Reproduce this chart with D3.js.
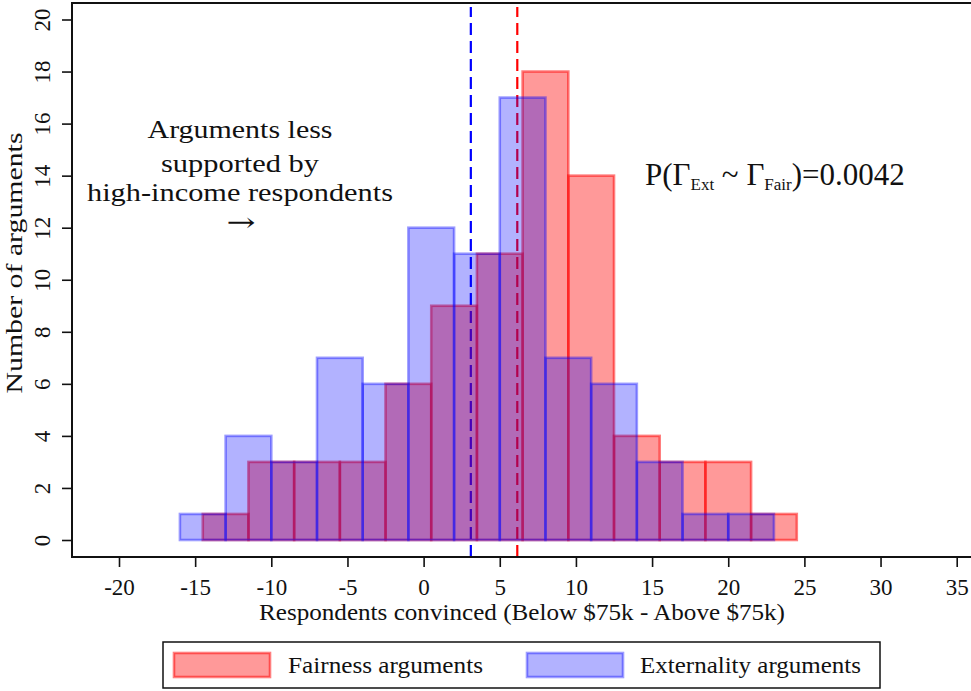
<!DOCTYPE html>
<html><head><meta charset="utf-8">
<script src="https://cdn.jsdelivr.net/npm/d3@7"></script>
<style>
html,body{margin:0;padding:0;background:#fff;}
svg{display:block;}
</style></head>
<body>
<svg id="chart" width="971" height="691"></svg>
<script>
// ---- data ----
const binWidth = 3;
const fairBinStarts = [-14.5,-11.5,-8.5,-5.5,-2.5,0.5,3.5,6.5,9.5,12.5,15.5,18.5,21.5];
const fairCounts    = [1,3,3,3,6,9,11,18,14,4,3,3,1];
const extBinStarts  = [-16,-13,-10,-7,-4,-1,2,5,8,11,14,17,20];
const extCounts     = [1,4,3,7,6,12,11,17,7,6,3,1,1];
const fairMean = 6.15;
const extMean = 3.1;
const xTicks = [-20,-15,-10,-5,0,5,10,15,20,25,30,35];
const yTicks = [0,2,4,6,8,10,12,14,16,18,20];
const legendLabels = ["Fairness arguments","Externality arguments"];
const annotationLines = ["Arguments less","supported by","high-income respondents"];

const FONT = "'Liberation Serif','Times New Roman',Times,'DejaVu Serif',serif";
const svg = d3.select("#chart");
const x = d3.scaleLinear().domain([-20,35]).range([119,956.7]);
const y = d3.scaleLinear().domain([0,20]).range([540,19.5]);
const plotTop = 3, plotBottom = 557, plotLeft = 72, plotRight = 985;

const fairFill = "rgba(255,0,0,0.4)", fairStroke = "rgba(255,0,0,0.5)";
const extFill = "rgba(0,0,255,0.3)", extStroke = "rgba(0,0,255,0.38)";

// mean lines (drawn under bars)
[[extMean,"#0000ff"],[fairMean,"#ff0000"]].forEach(([m,c])=>{
  svg.append("line").attr("x1",x(m)).attr("x2",x(m))
    .attr("y1",plotBottom).attr("y2",plotTop+4)
    .attr("stroke",c).attr("stroke-width",2.2)
    .attr("stroke-dasharray","12,6");
});

function drawBars(starts,counts,fill,stroke){
  svg.append("g").selectAll("rect").data(starts.map((s,i)=>({s,c:counts[i]})))
    .join("rect")
    .attr("x",d=>x(d.s)).attr("width",d=>x(d.s+binWidth)-x(d.s))
    .attr("y",d=>y(d.c)).attr("height",d=>y(0)-y(d.c))
    .attr("fill",fill).attr("stroke",stroke).attr("stroke-width",2.6);
}
drawBars(fairBinStarts,fairCounts,fairFill,fairStroke);
drawBars(extBinStarts,extCounts,extFill,extStroke);

// frame
svg.append("path").attr("d",`M${plotRight},${plotTop}H${plotLeft}V${plotBottom}H${plotRight}`)
  .attr("fill","none").attr("stroke","#111").attr("stroke-width",2);

// x axis
const xa = svg.append("g").attr("transform",`translate(0,${plotBottom})`)
  .call(d3.axisBottom(x).tickValues(xTicks).tickSize(10).tickPadding(0).tickFormat(d3.format("d")));
xa.attr("font-family",FONT);
xa.select(".domain").remove();
xa.selectAll("line").attr("stroke","#111").attr("stroke-width",1.6);
xa.selectAll("text").attr("font-size",23).attr("fill","#111")
  .attr("font-family",FONT).attr("dy",null).attr("y",38)
  .text(d=>d<0?"-"+Math.abs(d):String(d));

// y axis
const ya = svg.append("g").attr("transform",`translate(${plotLeft},0)`)
  .call(d3.axisLeft(y).tickValues(yTicks).tickSize(10).tickFormat(d3.format("d")));
ya.attr("font-family",FONT);
ya.select(".domain").remove();
ya.selectAll("line").attr("stroke","#111").attr("stroke-width",1.6);
ya.selectAll("text").attr("font-size",23).attr("fill","#111")
  .attr("font-family",FONT)
  .attr("dy",null)
  .attr("text-anchor","middle")
  .attr("transform","translate(-22.5,0) rotate(-90)")
  .attr("y",0).attr("x",0);

// axis titles
svg.append("text").attr("x",522).attr("y",620).attr("text-anchor","middle")
  .attr("font-family",FONT).attr("font-size",23).attr("fill","#111")
  .attr("textLength",526).attr("lengthAdjust","spacingAndGlyphs")
  .text("Respondents convinced (Below $75k - Above $75k)");
svg.append("text").attr("transform","translate(22,263) rotate(-90)")
  .attr("font-family",FONT).attr("text-anchor","middle").attr("font-size",23).attr("fill","#111")
  .attr("textLength",261).attr("lengthAdjust","spacingAndGlyphs")
  .text("Number of arguments");

// annotation
const annY = [138,171.5,200.5], annW = [185,158,306];
annotationLines.forEach((t,i)=>{
  svg.append("text").attr("x",240).attr("y",annY[i]).attr("text-anchor","middle")
    .attr("font-family",FONT).attr("font-size",26).attr("fill","#111")
    .attr("textLength",annW[i]).attr("lengthAdjust","spacingAndGlyphs").text(t);
});
svg.append("text").attr("x",241).attr("y",231).attr("text-anchor","middle")
  .attr("font-family","'DejaVu Serif','DejaVu Sans',serif").attr("font-size",26).attr("fill","#111")
  .attr("textLength",29).attr("lengthAdjust","spacingAndGlyphs").text("\u2192");

// p-value
const pt = svg.append("text").attr("x",645).attr("y",185).attr("font-family",FONT)
  .attr("font-size",31).attr("fill","#111");
pt.append("tspan").text("P(\u0393");
pt.append("tspan").attr("font-size",17).attr("dy",5).text("Ext");
pt.append("tspan").attr("dy",-5).text(" ~ \u0393");
pt.append("tspan").attr("font-size",17).attr("dy",5).text("Fair");
pt.append("tspan").attr("dy",-5).text(")=0.0042");

// legend
svg.append("rect").attr("x",163).attr("y",642).attr("width",717).attr("height",46)
  .attr("fill","#fff").attr("stroke","#111").attr("stroke-width",1.5);
const leg = [[174,288,fairFill,fairStroke,195],[527,640,extFill,extStroke,221]];
leg.forEach(([sx,tx,f,s,w],i)=>{
  svg.append("rect").attr("x",sx).attr("y",653).attr("width",96).attr("height",24)
    .attr("fill",f).attr("stroke",s).attr("stroke-width",2.6);
  svg.append("text").attr("x",tx).attr("y",673).attr("font-family",FONT)
    .attr("font-size",23).attr("fill","#111")
    .attr("textLength",w).attr("lengthAdjust","spacingAndGlyphs").text(legendLabels[i]);
});
</script>
</body></html>
